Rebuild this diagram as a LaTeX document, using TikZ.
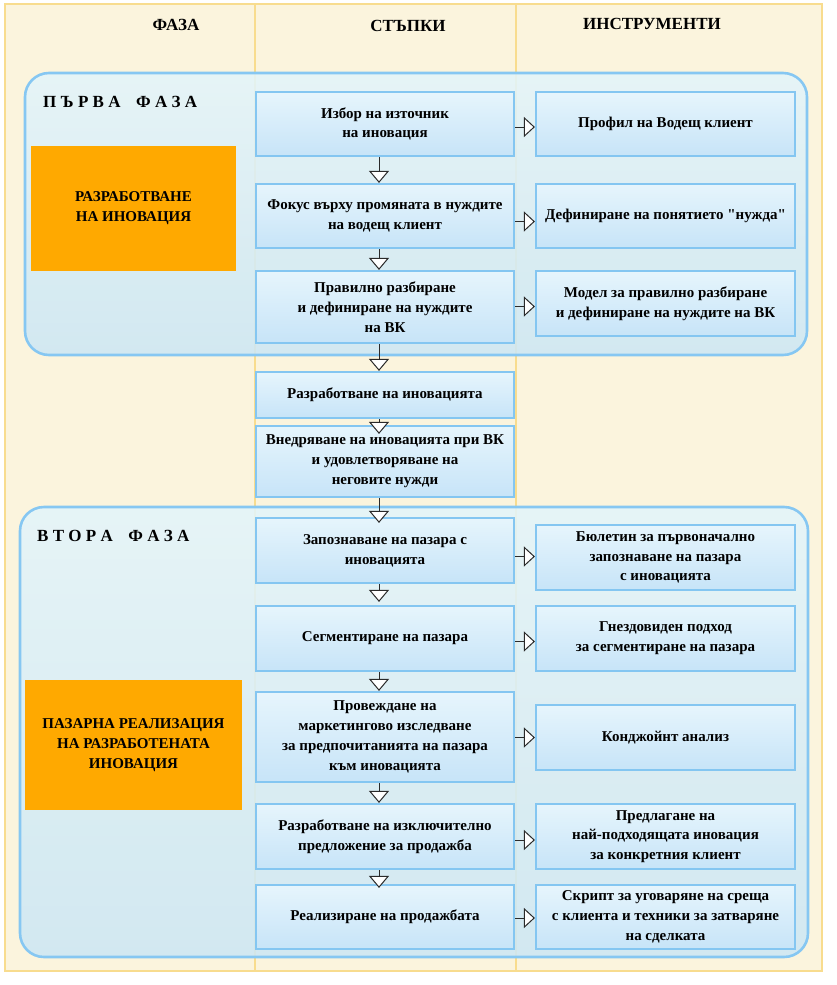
\documentclass[tikz,border=0pt]{standalone}
\usepackage{fontspec}
\setmainfont{Liberation Serif}
\newfontfamily\plainquotes{Liberation Serif}[Ligatures=TeXOff]
\usetikzlibrary{arrows.meta}
\definecolor{cream}{HTML}{FBF4DD}
\definecolor{goldline}{HTML}{F8DC8E}
\definecolor{phaseline}{HTML}{86C7F2}
\definecolor{phasetop}{HTML}{E3F4FA}
\definecolor{phasebot}{HTML}{CDE7F4}
\definecolor{boxline}{HTML}{84C6F1}
\definecolor{boxtop}{HTML}{E6F5FC}
\definecolor{boxbot}{HTML}{C7E4F8}
\definecolor{orangefill}{HTML}{FFA900}
\definecolor{arrowcol}{HTML}{2A2A2A}
\begin{document}
\begin{tikzpicture}[x=1pt,y=-1pt,
  boxtext/.style={font=\fontsize{15}{19.8}\selectfont\bfseries, text=black, align=center},
  stepbox/.style={boxtext, draw=boxline, line width=2.2pt, top color=boxtop, bottom color=boxbot, minimum width=258pt, inner sep=0pt},
  toolbox/.style={stepbox, minimum width=259pt},
  orangebox/.style={boxtext, fill=orangefill, inner sep=0pt},
  phase/.style={draw=phaseline, line width=2.6pt, rounded corners=24pt, top color=phasetop, bottom color=phasebot, fill opacity=0.88},
  header/.style={font=\fontsize{17}{20}\selectfont\bfseries},
  phasetitle/.style={font=\fontsize{17}{20}\selectfont\bfseries, anchor=west, inner sep=0pt},
  darr/.style={draw=arrowcol, line width=1pt, -{Triangle[length=12pt,width=20pt,fill=white,line width=1pt]}},
  rarr/.style={draw=arrowcol, line width=1pt, -{Triangle[length=11pt,width=20pt,fill=white,line width=1pt]}}
]
\useasboundingbox (0,0) rectangle (837,985);
% background and columns
\draw[goldline, line width=2.8pt, fill=cream] (5,4) rectangle (822,971);
\draw[goldline, line width=2.5pt] (255,4) -- (255,971);
\draw[goldline, line width=2.5pt] (516,4) -- (516,971);
% headers
\node[header] (h1) at (176,25) {ФАЗА};
\node[header] (h2) at (408,26) {СТЪПКИ};
\node[header] (h3) at (652,24) {ИНСТРУМЕНТИ};
% phases
\draw[phase] (25,73) rectangle (807,355);
\draw[phase] (20,507) rectangle (808,957);
\node[phasetitle] (p1) at (43,102) {П\hspace{4.3pt}Ъ\hspace{4.3pt}Р\hspace{4.3pt}В\hspace{4.3pt}А\hspace{15.5pt}Ф\hspace{4.3pt}А\hspace{4.3pt}З\hspace{4.3pt}А};
\node[phasetitle] (p2) at (37,536) {В\hspace{4.3pt}Т\hspace{4.3pt}О\hspace{4.3pt}Р\hspace{4.3pt}А\hspace{15.5pt}Ф\hspace{4.3pt}А\hspace{4.3pt}З\hspace{4.3pt}А};
% orange boxes
\node[orangebox, minimum width=205pt, minimum height=125pt] (o1) at (133.5,208.5) {РАЗРАБОТВАНЕ\\НА ИНОВАЦИЯ};
\node[orangebox, minimum width=217pt, minimum height=130pt] (o2) at (133.5,745) {ПАЗАРНА РЕАЛИЗАЦИЯ\\НА РАЗРАБОТЕНАТА\\ИНОВАЦИЯ};
% steps
\node[stepbox, minimum height=64pt] (s1) at (385,124) {Избор на източник\\на иновация};
\node[stepbox, minimum height=64pt] (s2) at (385,216) {Фокус върху промяната в нуждите\\на водещ клиент};
\node[stepbox, minimum height=72pt] (s3) at (385,307) {Правилно разбиране\\и дефиниране на нуждите\\на ВК};
\node[stepbox, minimum height=46pt] (s4) at (385,395) {Разработване на иновацията};
\node[stepbox, minimum height=71pt] (s5) at (385,461.5) {Внедряване на иновацията при ВК\\и удовлетворяване на\\неговите нужди};
\node[stepbox, minimum height=65pt] (s6) at (385,550.5) {Запознаване на пазара с\\иновацията};
\node[stepbox, minimum height=65pt] (s7) at (385,638.5) {Сегментиране на пазара};
\node[stepbox, minimum height=90pt] (s8) at (385,737) {Провеждане на\\маркетингово изследване\\за предпочитанията на пазара\\към иновацията};
\node[stepbox, minimum height=65pt] (s9) at (385,836.5) {Разработване на изключително\\предложение за продажба};
\node[stepbox, minimum height=64pt] (s10) at (385,917) {Реализиране на продажбата};
% tools
\node[toolbox, minimum height=64pt] (t1) at (665.5,124) {Профил на Водещ клиент};
\node[toolbox, minimum height=64pt] (t2) at (665.5,216) {Дефиниране на понятието {\plainquotes "}нужда{\plainquotes "}};
\node[toolbox, minimum height=65pt] (t3) at (665.5,303.5) {Модел за правилно разбиране\\и дефиниране на нуждите на ВК};
\node[toolbox, minimum height=65pt] (t6) at (665.5,557.5) {Бюлетин за първоначално\\запознаване на пазара\\с иновацията};
\node[toolbox, minimum height=65pt] (t7) at (665.5,638.5) {Гнездовиден подход\\за сегментиране на пазара};
\node[toolbox, minimum height=65pt] (t8) at (665.5,737.5) {Конджойнт анализ};
\node[toolbox, minimum height=65pt] (t9) at (665.5,836.5) {Предлагане на\\най-подходящата иновация\\за конкретния клиент};
\node[toolbox, minimum height=64pt] (t10) at (665.5,917) {Скрипт за уговаряне на среща\\с клиента и техники за затваряне\\на сделката};
% down arrows
\coordinate (ax) at (379,0);
\path (s5.north -| ax) ++(0,9) coordinate (e5);
\path (s6.north -| ax) ++(0,6) coordinate (e6);
\path (s7.north -| ax) ++(0,-3) coordinate (e7);
\path (s10.north -| ax) ++(0,4) coordinate (e10);
\draw[darr] (s1.south -| ax) -- (s2.north -| ax);
\draw[darr] (s2.south -| ax) -- (s3.north -| ax);
\draw[darr] (s3.south -| ax) -- (s4.north -| ax);
\draw[darr] (s4.south -| ax) -- (e5);
\draw[darr] (s5.south -| ax) -- (e6);
\draw[darr] (s6.south -| ax) -- (e7);
\draw[darr] (s7.south -| ax) -- (s8.north -| ax);
\draw[darr] (s8.south -| ax) -- (s9.north -| ax);
\draw[darr] (s9.south -| ax) -- (e10);
% right arrows
\coordinate (r1) at (0,127);
\coordinate (r2) at (0,221.5);
\coordinate (r3) at (0,306.5);
\coordinate (r6) at (0,556.5);
\coordinate (r7) at (0,641.5);
\coordinate (r8) at (0,737.5);
\coordinate (r9) at (0,840);
\coordinate (r10) at (0,918);
\draw[rarr] (s1.east |- r1) -- (t1.west |- r1);
\draw[rarr] (s2.east |- r2) -- (t2.west |- r2);
\draw[rarr] (s3.east |- r3) -- (t3.west |- r3);
\draw[rarr] (s6.east |- r6) -- (t6.west |- r6);
\draw[rarr] (s7.east |- r7) -- (t7.west |- r7);
\draw[rarr] (s8.east |- r8) -- (t8.west |- r8);
\draw[rarr] (s9.east |- r9) -- (t9.west |- r9);
\draw[rarr] (s10.east |- r10) -- (t10.west |- r10);
\end{tikzpicture}
\end{document}
